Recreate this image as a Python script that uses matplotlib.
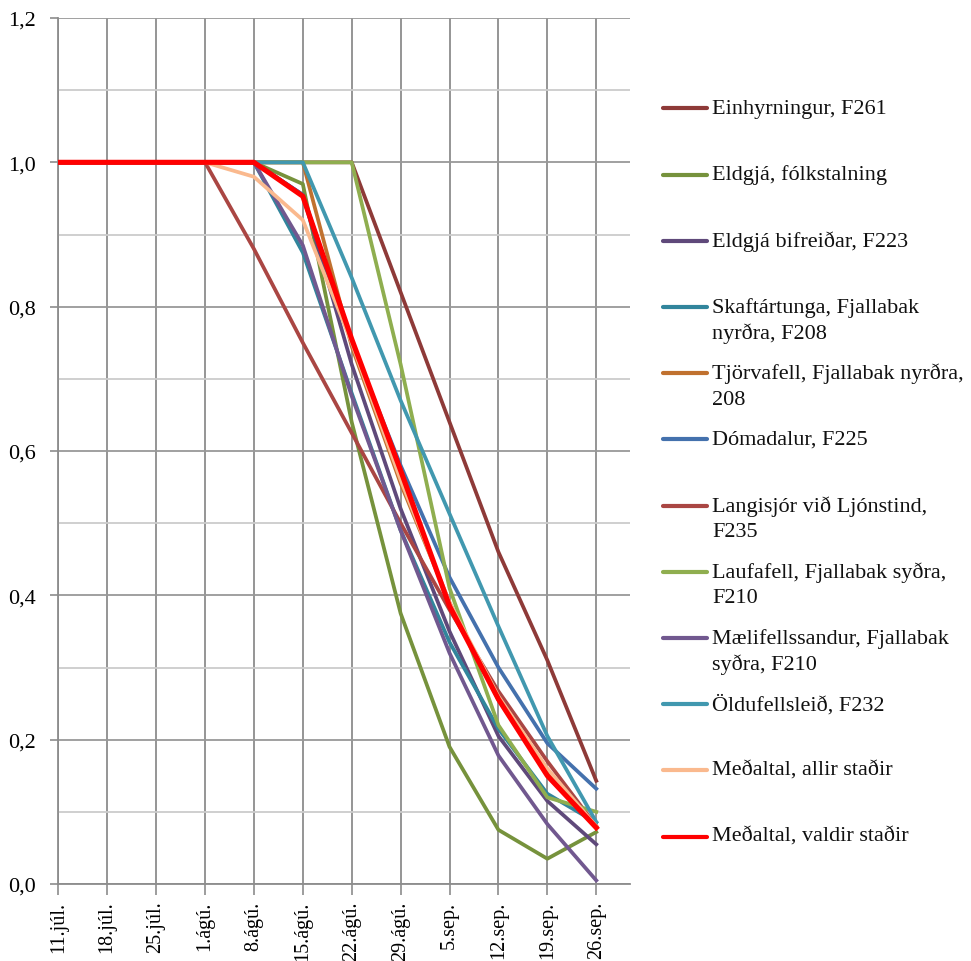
import numpy as np
import matplotlib
matplotlib.use("Agg")
import matplotlib.pyplot as plt
from matplotlib.lines import Line2D
from matplotlib.ticker import MultipleLocator, FuncFormatter

# ---- data ----
dates = ["11.júl.", "18.júl.", "25.júl.", "1.ágú.", "8.ágú.", "15.ágú.",
         "22.ágú.", "29.ágú.", "5.sep.", "12.sep.", "19.sep.", "26.sep."]

einhyrningur = [1, 1, 1, 1, 1, 1, 1, 0.82, 0.64, 0.46, 0.31, 0.143]
eldgja_folk = [1, 1, 1, 1, 1, 0.97, 0.64, 0.375, 0.19, 0.075, 0.035, 0.072]
eldgja_bif = [1, 1, 1, 1, 1, 0.955, 0.72, 0.52, 0.35, 0.205, 0.115, 0.055]
skaftartunga = [1, 1, 1, 1, 1, 0.875, 0.68, 0.49, 0.335, 0.215, 0.125, 0.085]
tjorvafell = [1, 1, 1, 1, 1, 1, 0.745, 0.555, 0.39, 0.255, 0.155, 0.08]
domadalur = [1, 1, 1, 1, 1, 0.955, 0.75, 0.58, 0.425, 0.30, 0.195, 0.132]
langisjor = [1, 1, 1, 1, 0.88, 0.75, 0.625, 0.50, 0.38, 0.267, 0.17, 0.08]
laufafell = [1, 1, 1, 1, 1, 1, 1, 0.72, 0.41, 0.22, 0.12, 0.10]
maelifell = [1, 1, 1, 1, 1, 0.885, 0.676, 0.49, 0.32, 0.178, 0.083, 0.005]
oldufell = [1, 1, 1, 1, 1, 1, 0.84, 0.67, 0.513, 0.357, 0.205, 0.086]
medal_allir = [1, 1, 1, 1, 0.98, 0.92, 0.75, 0.56, 0.39, 0.26, 0.16, 0.08]
medal_valdir = [1, 1, 1, 1, 1, 0.953, 0.755, 0.573, 0.385, 0.256, 0.15, 0.078]

labels = ["Einhyrningur, F261",
          "Eldgjá, fólkstalning",
          "Eldgjá bifreiðar, F223",
          "Skaftártunga, Fjallabak\nnyrðra, F208",
          "Tjörvafell, Fjallabak nyrðra,\n208",
          "Dómadalur, F225",
          "Langisjór við Ljónstind,\nF235",
          "Laufafell, Fjallabak syðra,\nF210",
          "Mælifellssandur, Fjallabak\nsyðra, F210",
          "Öldufellsleið, F232",
          "Meðaltal, allir staðir",
          "Meðaltal, valdir staðir"]
series = [einhyrningur, eldgja_folk, eldgja_bif, skaftartunga, tjorvafell,
          domadalur, langisjor, laufafell, maelifell, oldufell,
          medal_allir, medal_valdir]
colors = ["#8E3A38", "#76923C", "#5F497A", "#31859C", "#C0712F", "#4471AD",
          "#AA4643", "#8FAE4F", "#71588F", "#4198AF", "#FAB98E", "#FF0000"]
widths = [2.7] * 11 + [3.7]

# ---- figure ----
plt.rcParams['font.family'] = ['Liberation Serif', 'DejaVu Serif']
W, H = 971, 962
fig = plt.figure(figsize=(W / 100, H / 100), dpi=100)
ax = fig.add_axes([58.3 / W, 1 - 885 / H, (630 - 58.3) / W, (885 - 19) / H])

x = np.arange(len(dates))
for vals, col, lw in zip(series, colors, widths):
    ax.plot(x, vals, color=col, lw=lw, solid_joinstyle='round', zorder=3)

ax.set_xlim(0, 11.69)
ax.set_ylim(0, 1.2)
ax.set_xticks(x)
ax.set_xticklabels(dates, rotation=90, fontsize=14.5)
ax.yaxis.set_major_locator(MultipleLocator(0.2))
ax.yaxis.set_minor_locator(MultipleLocator(0.1))
ax.yaxis.set_major_formatter(FuncFormatter(lambda v, p: f"{v:.1f}".replace(".", ",")))
ax.tick_params(axis='y', which='major', labelsize=16, length=6, width=1.2,
               color="#8c8c8c", pad=10.5)
ax.tick_params(axis='y', which='minor', length=0)
ax.tick_params(axis='x', length=8, width=1.2, color="#8c8c8c", pad=4)

ax.grid(True, axis='y', which='major', color="#999999", lw=1.3, zorder=0)
ax.grid(True, axis='y', which='minor', color="#cccccc", lw=1.3, zorder=0)
ax.grid(True, axis='x', which='major', color="#8c8c8c", lw=1.3, zorder=0)
ax.set_axisbelow(True)
for s in ['top', 'right']:
    ax.spines[s].set_visible(False)
for s in ['left', 'bottom']:
    ax.spines[s].set_color("#8c8c8c")
    ax.spines[s].set_linewidth(1.3)

# ---- legend drawn by hand to keep the Excel spacing ----
for i, (lab, col) in enumerate(zip(labels, colors)):
    yp = 109.3 + 66.2 * i
    fy = 1 - yp / H
    fig.add_artist(Line2D([663 / W, 707 / W], [fy, fy], color=col, lw=3.0,
                          solid_capstyle='round', transform=fig.transFigure))
    for k, part in enumerate(lab.split("\n")):
        fig.text(712 / W, 1 - (yp + 26 * k) / H, part, fontsize=16,
                 va='center', ha='left', color="#111111")

fig.savefig("out.png", dpi=100)
